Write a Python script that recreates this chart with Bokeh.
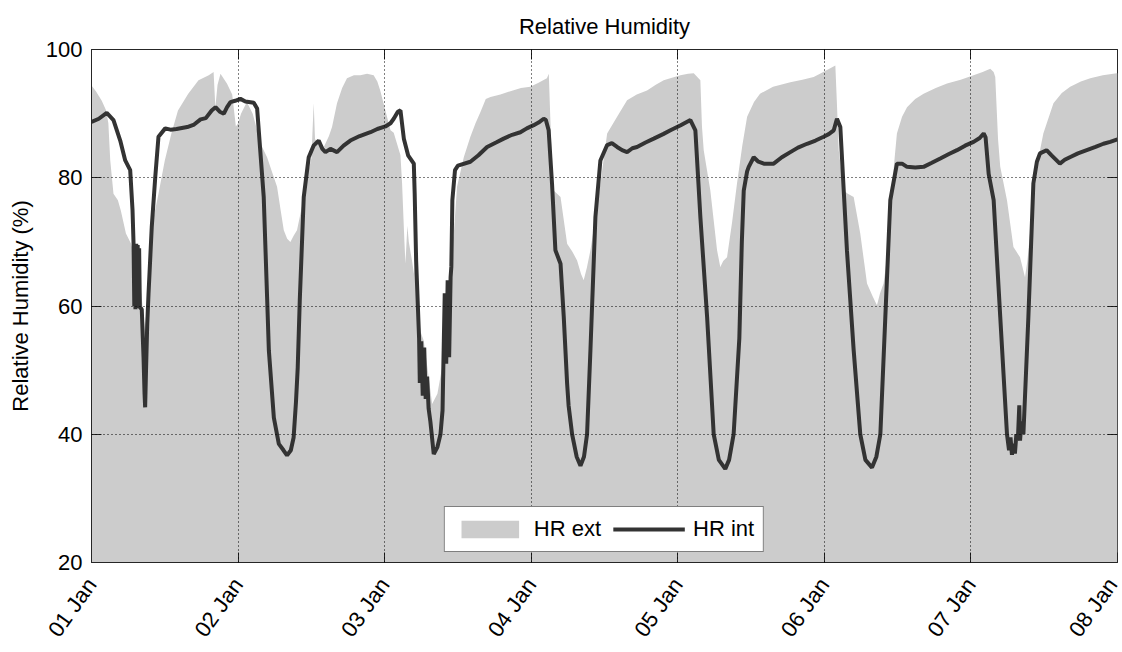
from bokeh.plotting import figure
from bokeh.models import (ColumnDataSource, FixedTicker, LinearAxis, Legend, LegendItem,
                          CustomLabelingPolicy)
from bokeh.embed import file_html
from bokeh.resources import INLINE

# ---------------- data ----------------
tick_days = [0, 1, 2, 3, 4, 5, 6, 7]
tick_labels = ["01 Jan", "02 Jan", "03 Jan", "04 Jan", "05 Jan", "06 Jan", "07 Jan", "08 Jan"]
y_ticks = [20, 40, 60, 80, 100]

# exterior relative humidity (grey area): days since 01 Jan, %
ext_day = [0.0, 0.03, 0.07, 0.1, 0.115, 0.128, 0.15, 0.18, 0.2, 0.235, 0.27, 0.3, 0.34, 0.365,
           0.39, 0.41, 0.457, 0.5, 0.545, 0.59, 0.66, 0.73, 0.8, 0.833, 0.845, 0.86, 0.88, 0.924,
           0.96, 0.985, 1.0, 1.02, 1.06, 1.1, 1.13, 1.16, 1.198, 1.23, 1.266, 1.29, 1.312, 1.335,
           1.357, 1.38, 1.402, 1.44, 1.47, 1.5, 1.516, 1.525, 1.55, 1.585, 1.62, 1.641, 1.675,
           1.71, 1.743, 1.79, 1.834, 1.88, 1.925, 1.95, 1.97, 2.005, 2.04, 2.062, 2.108, 2.119,
           2.135, 2.142, 2.155, 2.165, 2.187, 2.2, 2.21, 2.221, 2.245, 2.267, 2.3, 2.324, 2.36,
           2.392, 2.42, 2.449, 2.46, 2.472, 2.494, 2.54, 2.585, 2.62, 2.653, 2.69, 2.722, 2.79,
           2.858, 2.93, 2.994, 3.05, 3.107, 3.12, 3.13, 3.142, 3.153, 3.2, 3.245, 3.28, 3.313,
           3.34, 3.358, 3.38, 3.404, 3.44, 3.472, 3.518, 3.586, 3.654, 3.72, 3.79, 3.85, 3.904,
           3.96, 4.018, 4.07, 4.109, 4.154, 4.165, 4.177, 4.222, 4.268, 4.29, 4.31, 4.336, 4.37,
           4.404, 4.44, 4.473, 4.52, 4.561, 4.65, 4.768, 4.85, 4.927, 4.97, 5.018, 5.05, 5.075,
           5.085, 5.098, 5.132, 5.16, 5.2, 5.245, 5.291, 5.33, 5.359, 5.38, 5.404, 5.43, 5.45,
           5.475, 5.495, 5.53, 5.564, 5.62, 5.677, 5.76, 5.837, 5.93, 6.018, 6.08, 6.132, 6.155,
           6.166, 6.185, 6.2, 6.246, 6.29, 6.335, 6.369, 6.385, 6.403, 6.449, 6.494, 6.563,
           6.62, 6.677, 6.75, 6.814, 6.9, 6.994, 7.0]
ext_rh = [94.4, 93.5, 92.0, 90.5, 88.5, 82.7, 77.5, 76.5, 74.9, 71.3, 69.7, 67.1, 61.9, 56.0,
          64.5, 72.3, 77.5, 82.7, 86.9, 90.5, 93.1, 95.2, 96.0, 96.5, 91.0, 94.5, 96.2, 94.7,
          93.0, 88.0, 88.5, 90.0, 91.8, 90.0, 87.4, 85.0, 83.2, 81.0, 78.6, 75.0, 71.8, 70.5,
          70.0, 71.0, 71.8, 76.0, 80.1, 83.0, 91.6, 86.0, 85.5, 84.8, 86.5, 87.9, 91.6,
          94.0, 95.5, 96.0, 96.0, 96.2, 96.0, 95.0, 93.6, 90.5, 87.4, 87.0, 83.5, 79.1,
          70.0, 66.6, 72.5, 70.0, 67.0, 65.0, 69.2, 61.0, 56.0, 54.6, 49.0, 44.7, 46.3,
          50.4, 52.0, 63.5, 69.7, 71.3, 78.6, 83.2, 86.4, 88.5, 90.2, 92.3, 92.6, 93.0,
          93.5, 94.0, 94.2, 94.8, 95.5, 96.2, 89.5, 82.0, 78.0, 77.0, 69.7, 68.5, 67.1,
          65.0, 64.0, 66.0, 68.7, 74.0, 79.1, 86.9, 89.5, 92.1, 93.0, 93.6, 94.5, 95.2,
          95.6, 96.0, 96.2, 96.3, 95.2, 88.0, 84.3, 78.0, 68.7, 66.1, 67.0, 67.6, 73.0,
          79.1, 85.0, 89.5, 91.8, 93.1, 94.2, 94.9, 95.3, 95.7, 96.2, 96.8, 97.2, 97.5,
          92.0, 84.3, 78.0, 77.5, 77.0, 71.3, 63.5, 61.5, 60.1, 62.0, 63.5, 68.0, 73.9,
          82.0, 86.9, 89.5, 91.0, 92.3, 93.1, 94.0, 94.7, 95.3, 96.0, 96.5, 97.0, 96.5,
          95.7, 86.0, 81.7, 76.5, 69.2, 67.6, 64.5, 67.0, 71.3, 81.7, 86.9, 91.6,
          93.2, 94.2, 95.0, 95.5, 96.0, 96.3, 96.3]

# interior relative humidity (dark line)
int_day = [0.0, 0.05, 0.104, 0.15, 0.196, 0.23, 0.264, 0.28, 0.287, 0.292, 0.296, 0.3, 0.305,
           0.31, 0.315, 0.32, 0.325, 0.33, 0.343, 0.355, 0.362, 0.366, 0.372, 0.38, 0.389,
           0.411, 0.435, 0.457, 0.503, 0.539, 0.58, 0.653, 0.7, 0.744, 0.78, 0.82, 0.846,
           0.875, 0.903, 0.925, 0.948, 0.98, 1.016, 1.05, 1.107, 1.13, 1.175, 1.198, 1.21,
           1.244, 1.278, 1.31, 1.334, 1.36, 1.379, 1.395, 1.407, 1.421, 1.448, 1.482, 1.515,
           1.55, 1.575, 1.596, 1.63, 1.675, 1.72, 1.766, 1.83, 1.903, 1.95, 2.005, 2.04,
           2.062, 2.09, 2.108, 2.131, 2.16, 2.199, 2.205, 2.215, 2.235, 2.24, 2.25, 2.26,
           2.27, 2.28, 2.29, 2.3, 2.312, 2.335, 2.36, 2.381, 2.395, 2.40, 2.41, 2.42, 2.43,
           2.44, 2.45, 2.455, 2.462, 2.48, 2.5, 2.585, 2.64, 2.699, 2.76, 2.812, 2.87,
           2.926, 2.97, 3.017, 3.05, 3.085, 3.1, 3.119, 3.142, 3.165, 3.2, 3.222, 3.245,
           3.255, 3.279, 3.31, 3.336, 3.36, 3.381, 3.404, 3.438, 3.472, 3.518, 3.55, 3.586,
           3.62, 3.654, 3.69, 3.722, 3.78, 3.836, 3.9, 3.95, 4.02, 4.086, 4.12, 4.154, 4.2,
           4.245, 4.28, 4.324, 4.35, 4.381, 4.42, 4.437, 4.45, 4.473, 4.484, 4.518, 4.55,
           4.587, 4.654, 4.71, 4.768, 4.82, 4.882, 4.94, 4.995, 5.03, 5.064, 5.086, 5.109,
           5.154, 5.2, 5.245, 5.28, 5.325, 5.355, 5.382, 5.416, 5.45, 5.495, 5.53, 5.564,
           5.62, 5.677, 5.73, 5.791, 5.85, 5.905, 5.96, 6.018, 6.06, 6.087, 6.1, 6.121,
           6.155, 6.2, 6.246, 6.26, 6.27, 6.28, 6.29, 6.3, 6.31, 6.32, 6.33, 6.335, 6.345,
           6.358, 6.392, 6.426, 6.45, 6.471, 6.516, 6.55, 6.607, 6.64, 6.675, 6.73, 6.79,
           6.85, 6.904, 6.95, 7.0]
int_rh = [88.7, 89.2, 90.1, 89.0, 85.8, 82.7, 81.2, 74.9, 69.7, 60.0, 69.5, 59.5, 69.7,
          60.0, 69.5, 59.7, 69.0, 59.8, 59.5, 52.0, 46.3, 44.2, 50.0, 57.0, 61.9,
          72.3, 80.1, 86.4, 87.7, 87.5, 87.6, 87.9, 88.3, 89.1, 89.3, 90.5, 91.0,
          90.3, 90.0, 91.0, 91.8, 92.0, 92.3, 91.9, 91.7, 90.8, 77.0, 61.4, 53.1,
          42.6, 38.5, 37.5, 36.7, 37.5, 39.5, 45.0, 50.4, 60.9, 77.0, 83.2, 85.0,
          85.8, 84.5, 84.0, 84.5, 84.0, 85.0, 85.8, 86.5, 87.1, 87.6, 88.0, 88.5,
          89.2, 90.3, 90.5, 86.1, 83.5, 82.2, 77.5, 67.0, 55.0, 48.0, 54.5, 46.0,
          53.5, 45.5, 49.0, 44.0, 42.0, 36.9, 38.0, 40.0, 43.7, 50.0, 62.0, 51.0, 64.0,
          52.0, 64.5, 66.1, 76.5, 81.2, 81.9, 82.5, 83.5, 84.8, 85.5, 86.1, 86.7,
          87.1, 87.7, 88.2, 88.6, 89.2, 89.0, 87.4, 79.1, 68.7, 66.6, 58.3, 47.9,
          44.5, 40.0, 36.5, 35.1, 36.5, 40.0, 53.1, 73.9, 82.7, 85.1, 85.4, 84.8,
          84.3, 84.0, 84.6, 84.8, 85.5, 86.1, 86.8, 87.4, 88.2, 89.0, 87.4, 73.9, 58.3,
          40.0, 36.0, 34.6, 36.0, 40.0, 55.0, 70.0, 78.0, 81.0, 81.7, 83.2, 82.5,
          82.2, 82.2, 83.2, 84.0, 84.7, 85.3, 85.8, 86.4, 86.8, 87.4, 89.2, 87.9,
          68.7, 53.1, 40.0, 36.0, 34.8, 36.5, 40.0, 58.3, 76.5, 82.2, 82.2, 81.7,
          81.6, 81.7, 82.3, 83.0, 83.7, 84.3, 85.0, 85.6, 86.2, 86.9, 86.3, 80.6,
          76.5, 58.3, 40.0, 37.5, 39.5, 36.8, 38.5, 37.0, 40.0, 39.0, 44.5, 39.0, 42.0,
          40.0, 58.3, 79.1, 82.5, 83.8, 84.3, 83.5, 82.2, 82.8, 83.2, 83.8, 84.3,
          84.8, 85.3, 85.6, 86.0]

# ---------------- styling ----------------
FONT = "Liberation Sans"
AXC = "#262626"

p = figure(width=1122, height=652, x_range=(tick_days[0], tick_days[-1]),
           y_range=(y_ticks[0], y_ticks[-1]), output_backend="svg",
           toolbar_location=None, title="Relative Humidity")
p.min_border_left = 91
p.min_border_right = 5
p.min_border_top = 49
p.min_border_bottom = 90
p.background_fill_color = "white"
p.border_fill_color = "white"
p.outline_line_color = AXC
p.outline_line_width = 1

p.title.align = "center"
p.title.text_font = FONT
p.title.text_font_size = "22px"
p.title.text_font_style = "normal"
p.title.text_color = "black"
p.title.standoff = 14

src_ext = ColumnDataSource(dict(x=ext_day, y=ext_rh, base=[0] * len(ext_day)))
src_int = ColumnDataSource(dict(x=int_day, y=int_rh))

r_ext = p.varea(x="x", y1="base", y2="y", source=src_ext, fill_color="#CCCCCC")
r_int = p.line(x="x", y="y", source=src_int, line_color="#333333", line_width=4)

xt = FixedTicker(ticks=tick_days)
yt = FixedTicker(ticks=y_ticks)
p.xaxis.ticker = xt
p.yaxis.ticker = yt
p.xaxis.major_label_overrides = {d: lbl for d, lbl in zip(tick_days, tick_labels)}
p.xaxis.major_label_orientation = 0.95

for ax in (p.xaxis[0], p.yaxis[0]):
    ax.axis_line_color = AXC
    ax.major_tick_line_color = AXC
    ax.major_tick_in = 10
    ax.major_tick_out = 0
    ax.minor_tick_line_color = None
    ax.major_label_text_font = FONT
    ax.major_label_text_font_size = "22px"
    ax.major_label_text_color = "black"
    ax.major_label_standoff = 9
p.xaxis.major_label_standoff = 18

p.yaxis.axis_label = "Relative Humidity (%)"
p.yaxis.axis_label_text_font = FONT
p.yaxis.axis_label_text_font_size = "22px"
p.yaxis.axis_label_text_font_style = "normal"
p.yaxis.axis_label_text_color = "black"
p.yaxis.axis_label_standoff = 10

# mirrored ticks on the right and top edges (box style), without labels
hide_all = CustomLabelingPolicy(code="""
    for (const i of Array.from(indices)) { indices.unset(i) }
    return indices
""")
for side, tk in (("right", yt), ("above", xt)):
    ax = LinearAxis(ticker=tk)
    ax.axis_line_color = None
    ax.major_tick_line_color = AXC
    ax.major_tick_in = 10
    ax.major_tick_out = 0
    ax.minor_tick_line_color = None
    ax.major_label_text_font_size = "1px"
    ax.major_label_standoff = 0
    ax.major_label_policy = hide_all
    p.add_layout(ax, side)

for g in (p.xgrid[0], p.ygrid[0]):
    g.grid_line_color = "black"
    g.grid_line_dash = "1 3"
    g.grid_line_width = 1
    g.level = "guide"
p.xgrid.ticker = xt
p.ygrid.ticker = yt

legend = Legend(items=[LegendItem(label="HR ext", renderers=[r_ext]),
                       LegendItem(label="HR int", renderers=[r_int])],
                location="bottom_center", orientation="horizontal")
legend.label_text_font = FONT
legend.label_text_font_size = "22px"
legend.label_text_color = "black"
legend.glyph_width = 72
legend.glyph_height = 22
legend.label_standoff = 8
legend.spacing = 12
legend.padding = 9
legend.margin = 10
legend.border_line_color = "black"
legend.border_line_width = 1
legend.background_fill_alpha = 1.0
p.add_layout(legend, "center")

open("out.html", "w").write(file_html(p, INLINE))
